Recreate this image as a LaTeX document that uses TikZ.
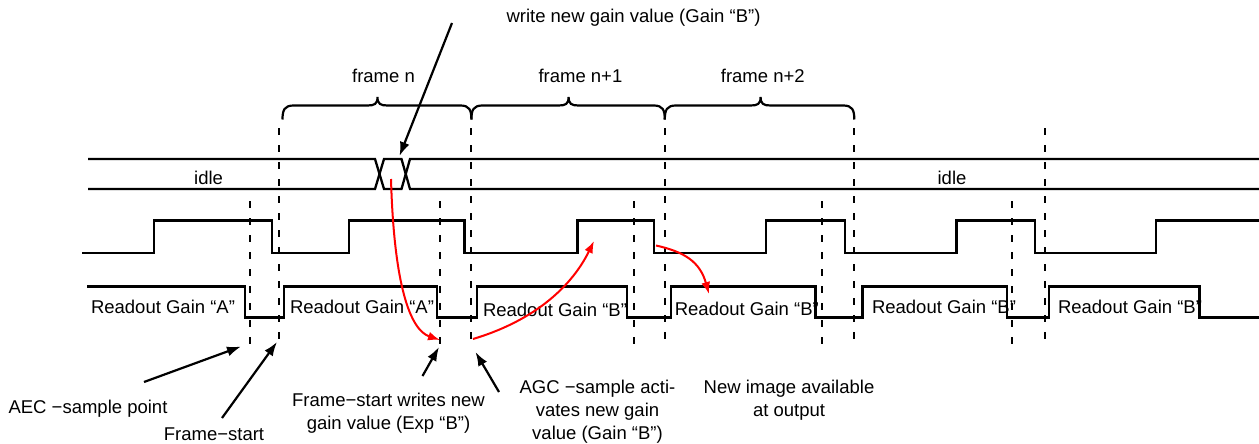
\documentclass[tikz,border=0pt]{standalone}
\usepackage{fontspec}
\setmainfont{Liberation Sans}
\usetikzlibrary{arrows.meta}
\newcommand{\myBrace}[3]{% x0, tip, x1
  \draw[brc] (#1,119.5) .. controls (#1,110) and (#1+2,105.5) .. (#1+11,105.5)
    -- (#2-10,105.5) .. controls (#2-3,105.5) and (#2,104) .. (#2,97)
    .. controls (#2,104) and (#2+3,105.5) .. (#2+10,105.5)
    -- (#3-11,105.5) .. controls (#3-2,105.5) and (#3,110) .. (#3,119.5);}
\begin{document}
\begin{tikzpicture}[x=1pt,y=-1pt,
  sig/.style={line width=2.3pt, line join=miter},
  brc/.style={line width=2.2pt},
  guide/.style={line width=2pt, dash pattern=on 6.5pt off 10.5pt},
  lbl/.style={inner sep=0pt, font=\fontsize{18.5}{23}\selectfont, align=center, anchor=base},
  blk/.style={line width=2.2pt, -{Latex[length=14pt,width=10pt]}},
  redarrow/.style={draw=red, line width=2pt, -{Latex[length=12pt,width=9pt]}, fill=none}
]
\useasboundingbox (0,0) rectangle (1259,444);

% bus
\draw[sig] (88,159) -- (375,159) -- (384,189) -- (401.5,189) -- (410,159) -- (1260,159);
\draw[sig] (88,189) -- (375,189) -- (384,159) -- (401.5,159) -- (410,189) -- (1260,189);

% pulse row
\draw[sig] (82,253) -- (154,253) -- (154,220.5) -- (272,220.5) -- (272,253) -- (349,253)
  -- (349,220.5) -- (464.5,220.5) -- (464.5,253) -- (577.6,253) -- (577.6,220.5) -- (654,220.5)
  -- (654,253) -- (766,253) -- (766,220.5) -- (845.3,220.5) -- (845.3,253) -- (956.6,253)
  -- (956.6,220.5) -- (1034.8,220.5) -- (1034.8,253) -- (1156,253) -- (1156,220.5) -- (1260,220.5);

% readout row
\draw[sig] (87,286.5) -- (245,286.5) -- (245,317.5) -- (283.7,317.5) -- (283.7,286.5)
  -- (436.7,286.5) -- (436.7,317.5) -- (476.7,317.5) -- (476.7,286.5) -- (627.3,286.5)
  -- (627.3,317.5) -- (670.9,317.5) -- (670.9,286.5) -- (815.6,286.5) -- (815.6,317.5)
  -- (862.5,317.5) -- (862.5,286.5) -- (1007.1,286.5) -- (1007.1,317.5) -- (1049.1,317.5)
  -- (1049.1,286.5) -- (1199.5,286.5) -- (1199.5,317.5) -- (1260,317.5);

% guides
\foreach \x in {279,471.4,664.8,854.3,1044.6} \draw[guide] (\x,128) -- (\x,346);
\foreach \x in {249.8,440,633.5,822,1011.8} \draw[guide] (\x,201) -- (\x,346);

% braces
\myBrace{282.5}{377.5}{471.4}
\myBrace{471.4}{568.6}{664.8}
\myBrace{664.8}{760.6}{854.3}

% labels
\node[lbl] (wr) at (633.5,23) {write new gain value (Gain “B”)};
\node[lbl] (fn) at (383.5,82) {frame n};
\node[lbl] (fn1) at (580.4,82) {frame n+1};
\node[lbl] (fn2) at (762.8,82) {frame n+2};
\node[lbl] (idle1) at (208.6,184) {idle};
\node[lbl] (idle2) at (952,184) {idle};

\node[lbl] (r1) at (163,313) {Readout Gain “A”};
\node[lbl] (r2) at (362,313) {Readout Gain “A”};
\node[lbl] (r3) at (555,316) {Readout Gain “B”};
\node[lbl] (r4) at (746.8,315) {Readout Gain “B”};
\node[lbl] (r5) at (944,313) {Readout Gain “B”};
\node[lbl] (r6) at (1130,313) {Readout Gain “B”};

\node[lbl] (aec) at (88,413) {AEC −sample point};
\node[lbl] (fs) at (214,440) {Frame−start};
\node[lbl] (fsw) at (388.5,429) {Frame−start writes new\\gain value (Exp “B”)};
\node[lbl] (agc) at (597.5,439) {AGC −sample acti-\\vates new gain\\value (Gain “B”)};
\node[lbl] (nia) at (789,416) {New image available\\at output};

% arrow end points
\coordinate (wrT) at (452,23);   \coordinate (wrH) at (399.5,156);
\coordinate (aecT) at (144,382); \coordinate (aecH) at (241,346.5);
\coordinate (fsT) at (222,418);  \coordinate (fsH) at (277,342);
\coordinate (fswT) at (422.5,376); \coordinate (fswH) at (439,347);
\coordinate (agcT) at (499,392); \coordinate (agcH) at (475.5,352);

\draw[blk] (wrT) -- (wrH);
\draw[blk] (aecT) -- (aecH);
\draw[blk] (fsT) -- (fsH);
\draw[blk] (fswT) -- (fswH);
\draw[blk] (agcT) -- (agcH);

% red arrows
\coordinate (ra0) at (391,179);  \coordinate (ra1) at (440,340);
\coordinate (rb0) at (473,339);  \coordinate (rb1) at (594,241);
\coordinate (rc0) at (656,245.5); \coordinate (rc1) at (709,294);
\draw[redarrow] (ra0) .. controls (394,285) and (410,330) .. (ra1);
\draw[redarrow] (rb0) .. controls (530,322) and (570,290) .. (rb1);
\draw[redarrow] (rc0) .. controls (685,252) and (700,262) .. (rc1);
\end{tikzpicture}
\end{document}
